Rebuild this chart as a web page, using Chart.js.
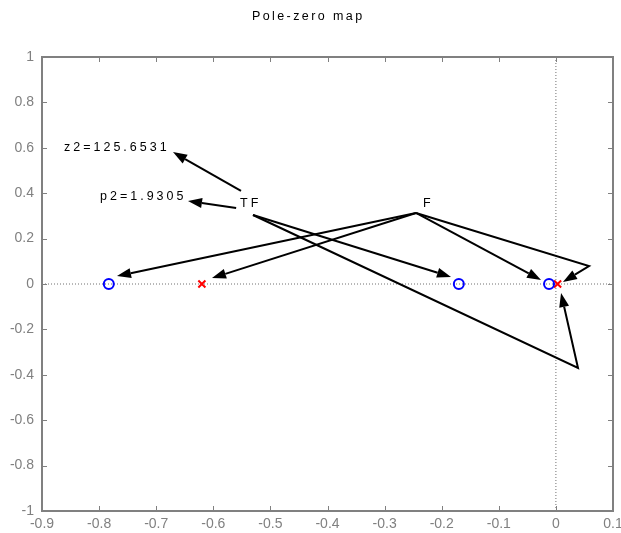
<!DOCTYPE html>
<html>
<head>
<meta charset="utf-8">
<title>Pole-zero map</title>
<script src="https://cdn.jsdelivr.net/npm/chart.js@4/dist/chart.umd.min.js"></script>
<style>
  html, body { margin: 0; padding: 0; background: #ffffff; }
  #c { display: block; }
</style>
</head>
<body>
<canvas id="c" width="621" height="533"></canvas>
<script>
// ---- chart data -------------------------------------------------------
const chartTitle = 'Pole-zero map';

// zeros (o) and poles (x) in the complex plane
const zeroReal = [-0.783, -0.170, -0.012];
const zeroImag = [0, 0, 0];
const poleReal = [-0.620, 0.003];
const poleImag = [0, 0];

// axis extents and tick labels
const xRange = [-0.9, 0.1];
const yRange = [-1, 1];
const xTickLabels = ['-0.9', '-0.8', '-0.7', '-0.6', '-0.5', '-0.4', '-0.3', '-0.2', '-0.1', '0', '0.1'];
const yTickLabels = ['-1', '-0.8', '-0.6', '-0.4', '-0.2', '0', '0.2', '0.4', '0.6', '0.8', '1'];

// text notes placed in data coordinates (left edge, baseline)
const noteTexts = ['z2=125.6531', 'p2=1.9305', 'TF', 'F'];
const noteX = [-0.8615, -0.7984, -0.5532, -0.2327];
const noteY = [0.586, 0.370, 0.341, 0.341];

// arrows as polylines in data coordinates; the last point is the arrow tip
const arrowPaths = [
  [[-0.5515, 0.410], [-0.6706, 0.581]],
  [[-0.5600, 0.335], [-0.6443, 0.366]],
  [[-0.5305, 0.304], [-0.1837, 0.031]],
  [[-0.5305, 0.304], [0.0387, -0.370], [0.0090, -0.040]],
  [[-0.2450, 0.313], [-0.7687, 0.035]],
  [[-0.2450, 0.313], [-0.6023, 0.026]],
  [[-0.2450, 0.313], [-0.0260, 0.018]],
  [[-0.2450, 0.313], [0.0580, 0.079], [0.0124, 0.009]]
];

// ---- drawing ------------------------------------------------------------
const FONT = "'Liberation Sans', Arial, Helvetica, sans-serif";
const FRAME = '#808080';

function toPts(xs, ys) { return xs.map((x, i) => ({ x: x, y: ys[i] })); }

function drawArrow(ctx, pts) {
  const n = pts.length;
  const tx = pts[n - 1][0], ty = pts[n - 1][1];
  const px = pts[n - 2][0], py = pts[n - 2][1];
  const ang = Math.atan2(ty - py, tx - px);
  const L = 14, W = 5;
  const bx = tx - L * Math.cos(ang), by = ty - L * Math.sin(ang);
  ctx.beginPath();
  ctx.moveTo(pts[0][0], pts[0][1]);
  for (let i = 1; i < n - 1; i++) ctx.lineTo(pts[i][0], pts[i][1]);
  ctx.lineTo(bx, by);
  ctx.stroke();
  ctx.beginPath();
  ctx.moveTo(tx, ty);
  ctx.lineTo(bx + W * Math.sin(ang), by - W * Math.cos(ang));
  ctx.lineTo(bx - W * Math.sin(ang), by + W * Math.cos(ang));
  ctx.closePath();
  ctx.fill();
}

const framePlugin = {
  id: 'frameAndNotes',
  afterDatasetsDraw(chart) {
    const ctx = chart.ctx;
    const a = chart.chartArea;
    const xs = chart.scales.x, ys = chart.scales.y;
    ctx.save();

    // box around the axes
    ctx.strokeStyle = FRAME;
    ctx.lineWidth = 2;
    ctx.strokeRect(a.left, a.top, a.right - a.left, a.bottom - a.top);

    // inward tick marks on all four sides
    const tl = 5;
    ctx.lineWidth = 1;
    ctx.beginPath();
    xs.ticks.forEach(t => {
      const p = Math.round(xs.getPixelForValue(t.value)) + 0.5;
      ctx.moveTo(p, a.bottom); ctx.lineTo(p, a.bottom - tl);
      ctx.moveTo(p, a.top); ctx.lineTo(p, a.top + tl);
    });
    ys.ticks.forEach(t => {
      const p = Math.round(ys.getPixelForValue(t.value)) + 0.5;
      ctx.moveTo(a.left, p); ctx.lineTo(a.left + tl, p);
      ctx.moveTo(a.right, p); ctx.lineTo(a.right - tl, p);
    });
    ctx.stroke();

    // arrows
    ctx.strokeStyle = '#000000';
    ctx.fillStyle = '#000000';
    ctx.lineWidth = 2;
    ctx.lineJoin = 'miter';
    arrowPaths.forEach(path => {
      drawArrow(ctx, path.map(p => [xs.getPixelForValue(p[0]), ys.getPixelForValue(p[1])]));
    });

    // text notes
    ctx.font = '12.5px ' + FONT;
    ctx.textAlign = 'left';
    ctx.textBaseline = 'alphabetic';
    if ('letterSpacing' in ctx) ctx.letterSpacing = '3px';
    noteTexts.forEach((s, i) => {
      ctx.fillText(s, xs.getPixelForValue(noteX[i]), ys.getPixelForValue(noteY[i]));
    });

    // title
    ctx.font = '12.5px ' + FONT;
    if ('letterSpacing' in ctx) ctx.letterSpacing = '2.4px';
    ctx.fillText(chartTitle, 252, 20);
    ctx.restore();
  }
};

new Chart(document.getElementById('c'), {
  type: 'scatter',
  data: {
    datasets: [
      {
        label: 'Zeros',
        data: toPts(zeroReal, zeroImag),
        pointStyle: 'circle',
        pointRadius: 5,
        pointHoverRadius: 5,
        pointBorderWidth: 2,
        pointBorderColor: '#0000ff',
        pointBackgroundColor: 'rgba(0,0,0,0)'
      },
      {
        label: 'Poles',
        data: toPts(poleReal, poleImag),
        pointStyle: 'crossRot',
        pointRadius: 5,
        pointHoverRadius: 5,
        pointBorderWidth: 2,
        pointBorderColor: '#ff0000',
        pointBackgroundColor: '#ff0000'
      },
      {
        label: 'Real axis',
        data: [{ x: xRange[0], y: 0 }, { x: xRange[1], y: 0 }],
        showLine: true,
        borderColor: '#707070',
        borderWidth: 1,
        borderDash: [1, 2],
        pointRadius: 0
      },
      {
        label: 'Imaginary axis',
        data: [{ x: 0, y: yRange[0] }, { x: 0, y: yRange[1] }],
        showLine: true,
        borderColor: '#707070',
        borderWidth: 1,
        borderDash: [1, 2],
        pointRadius: 0
      }
    ]
  },
  options: {
    responsive: false,
    animation: false,
    events: [],
    layout: { padding: { top: 57, right: 8, left: 0, bottom: 0 } },
    plugins: {
      legend: { display: false },
      tooltip: { enabled: false },
      title: { display: false }
    },
    scales: {
      x: {
        type: 'linear',
        position: 'bottom',
        min: xRange[0],
        max: xRange[1],
        grid: { display: false, drawTicks: false },
        border: { display: false },
        ticks: {
          stepSize: 0.1,
          autoSkip: false,
          maxRotation: 0,
          padding: 5,
          color: FRAME,
          font: { family: FONT, size: 14 },
          callback: (v, i) => xTickLabels[i]
        },
        afterFit: s => { s.height = 22; s.paddingLeft = 0; s.paddingRight = 0; }
      },
      y: {
        type: 'linear',
        position: 'left',
        min: yRange[0],
        max: yRange[1],
        grid: { display: false, drawTicks: false },
        border: { display: false },
        ticks: {
          stepSize: 0.2,
          autoSkip: false,
          padding: 8,
          color: FRAME,
          font: { family: FONT, size: 14 },
          callback: (v, i) => yTickLabels[i]
        },
        afterFit: s => { s.width = 42; s.paddingTop = 0; s.paddingBottom = 0; }
      }
    }
  },
  plugins: [framePlugin]
});
</script>
</body>
</html>
